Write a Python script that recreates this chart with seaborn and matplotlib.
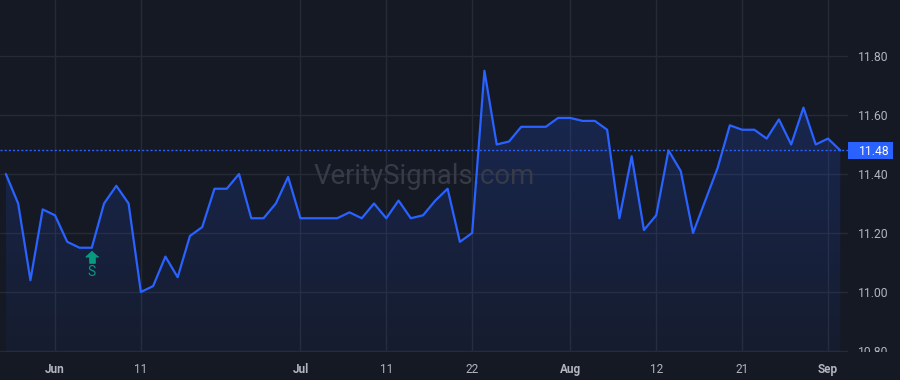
import numpy as np
import pandas as pd
import matplotlib
matplotlib.use("Agg")
import matplotlib.pyplot as plt
import seaborn as sns
from matplotlib.transforms import Bbox, TransformedBbox
from matplotlib.patches import Rectangle

# ---- data ----
dates = pd.to_datetime([
    "2025-05-27", "2025-05-28", "2025-05-29", "2025-05-30",
    "2025-06-02", "2025-06-03", "2025-06-04", "2025-06-05", "2025-06-06", "2025-06-09",
    "2025-06-10", "2025-06-11", "2025-06-12", "2025-06-13", "2025-06-16", "2025-06-17",
    "2025-06-18", "2025-06-20", "2025-06-23", "2025-06-24", "2025-06-25", "2025-06-26",
    "2025-06-27", "2025-06-30",
    "2025-07-01", "2025-07-02", "2025-07-03", "2025-07-07", "2025-07-08", "2025-07-09",
    "2025-07-10", "2025-07-11", "2025-07-14", "2025-07-15", "2025-07-16", "2025-07-17",
    "2025-07-18", "2025-07-21", "2025-07-22", "2025-07-23", "2025-07-24", "2025-07-25",
    "2025-07-28", "2025-07-29", "2025-07-30", "2025-07-31",
    "2025-08-01", "2025-08-04", "2025-08-05", "2025-08-06", "2025-08-07", "2025-08-08",
    "2025-08-11", "2025-08-12", "2025-08-13", "2025-08-14", "2025-08-15", "2025-08-18",
    "2025-08-19", "2025-08-20", "2025-08-21", "2025-08-22", "2025-08-25", "2025-08-26",
    "2025-08-27", "2025-08-28", "2025-08-29",
    "2025-09-02", "2025-09-03",
])
prices = [
    11.40, 11.30, 11.04, 11.28,
    11.26, 11.17, 11.15, 11.15, 11.30, 11.36,
    11.30, 11.00, 11.02, 11.12, 11.05, 11.19,
    11.22, 11.35, 11.35, 11.40, 11.25, 11.25,
    11.30, 11.39,
    11.25, 11.25, 11.25, 11.25, 11.27, 11.25,
    11.30, 11.25, 11.31, 11.25, 11.26, 11.31,
    11.35, 11.17, 11.20, 11.75, 11.50, 11.51,
    11.56, 11.56, 11.56, 11.59,
    11.59, 11.58, 11.58, 11.55, 11.25, 11.46,
    11.21, 11.26, 11.48, 11.41, 11.20, 11.31,
    11.42, 11.565, 11.55, 11.55, 11.52, 11.585,
    11.50, 11.625, 11.50,
    11.52, 11.48,
]
last_price = 11.48
tick_labels = ["Jun", "11", "Jul", "11", "22", "Aug", "12", "21", "Sep"]
tick_dates = pd.to_datetime(["2025-06-02", "2025-06-11", "2025-07-01", "2025-07-11",
                             "2025-07-22", "2025-08-01", "2025-08-12", "2025-08-21",
                             "2025-09-02"])
bold_ticks = ["Jun", "Jul", "Aug", "Sep"]
y_ticks = [10.8, 11.0, 11.2, 11.4, 11.6, 11.8]
signal_date = pd.Timestamp("2025-06-05")
signal_label = "S"
watermark = "VeritySignals.com"

# ---- styling ----
BG = "#151924"
GRID = "#262a36"
TXT = "#b2b5be"
BLUE = "#2962ff"
GREEN = "#089981"

sns.set_theme(style="dark")
plt.rcParams["font.family"] = ["Roboto", "DejaVu Sans"]

df = pd.DataFrame({"date": dates, "price": prices})
df["idx"] = np.arange(len(df))
date_to_idx = {d: i for i, d in enumerate(df["date"])}

W, H = 900, 380
fig = plt.figure(figsize=(9, 3.8), dpi=100, facecolor=BG)
ax = fig.add_axes([0, 28 / H, 848 / W, 352 / H])
ax.set_facecolor(BG)

ymin, ymax = 10.7966, 11.9898
ax.set_xlim(-0.48, 68.63)
ax.set_ylim(ymin, ymax)

# gradient fill
poly = ax.fill_between(df["idx"], df["price"], ymin, color="none", lw=0)
grad = np.linspace(0, 1, 256).reshape(-1, 1)
cmap = matplotlib.colors.LinearSegmentedColormap.from_list(
    "g", [(0.16, 0.38, 1.0, 0.05), (0.16, 0.38, 1.0, 0.22)])
img = ax.imshow(grad, extent=[0, len(df) - 1, ymin, 11.76], origin="lower",
                aspect="auto", cmap=cmap, zorder=1)
path = poly.get_paths()[0]
img.set_clip_path(path, transform=ax.transData)

# grid
for yv in y_ticks:
    ax.axhline(yv, color=GRID, lw=1, zorder=0.5)
for d in tick_dates:
    ax.axvline(date_to_idx[d], color=GRID, lw=1, zorder=0.5)

sns.lineplot(data=df, x="idx", y="price", ax=ax, color=BLUE, lw=1.6, zorder=3)

# last price line
ax.axhline(last_price, color=BLUE, lw=1, ls=(0, (1.5, 1.5)), zorder=2.5)

# watermark
ax.text(0.5, 1 - 184 / 352, watermark, transform=ax.transAxes, ha="center",
        va="baseline", fontsize=19.8, color="#373b47", zorder=2)

# signal marker
si = date_to_idx[signal_date]
arrow = [(0, 1), (-1, 0.1), (-0.42, 0.1), (-0.42, -0.9), (0.42, -0.9), (0.42, 0.1), (1, 0.1)]
ax.plot([si], [11.117], marker=arrow, ms=9, color=GREEN, mec=GREEN, zorder=4)
ax.text(si, 11.068, signal_label, ha="center", va="center", fontsize=10,
        color=GREEN, zorder=4)

# axes
ax.set_xlabel("")
ax.set_ylabel("")
for s in ax.spines.values():
    s.set_visible(False)
ax.set_xticks([date_to_idx[d] for d in tick_dates])
ax.set_xticklabels(tick_labels)
for lbl in ax.get_xticklabels():
    if lbl.get_text() in bold_ticks:
        lbl.set_fontweight("bold")
ax.tick_params(axis="x", length=0, pad=8, labelsize=8.5, labelcolor=TXT)
ax.yaxis.tick_right()
ax.set_yticks(y_ticks)
ax.set_yticklabels([f"{v:.2f}" for v in y_ticks])
ax.tick_params(axis="y", length=0, pad=7.5, labelsize=8.7, labelcolor=TXT)
clip = TransformedBbox(Bbox([[0, 28 / H], [1, 1]]), fig.transFigure)
for lbl in ax.get_yticklabels():
    lbl.set_clip_box(clip)
    lbl.set_clip_on(True)
ax.grid(False)

# last price tag
fig.canvas.draw()
ypix = ax.transData.transform((0, last_price))[1]
yfig = ypix / H
fig.patches.append(Rectangle((848 / W, yfig - 8.5 / H), 45 / W, 17 / H,
                             transform=fig.transFigure, fc=BLUE, ec="none", zorder=5))
fig.text(858.5 / W, yfig, f"{last_price:.2f}", ha="left", va="center_baseline",
         fontsize=8.7, color="white", zorder=6)

fig.savefig("out.png", dpi=100, facecolor=BG)
